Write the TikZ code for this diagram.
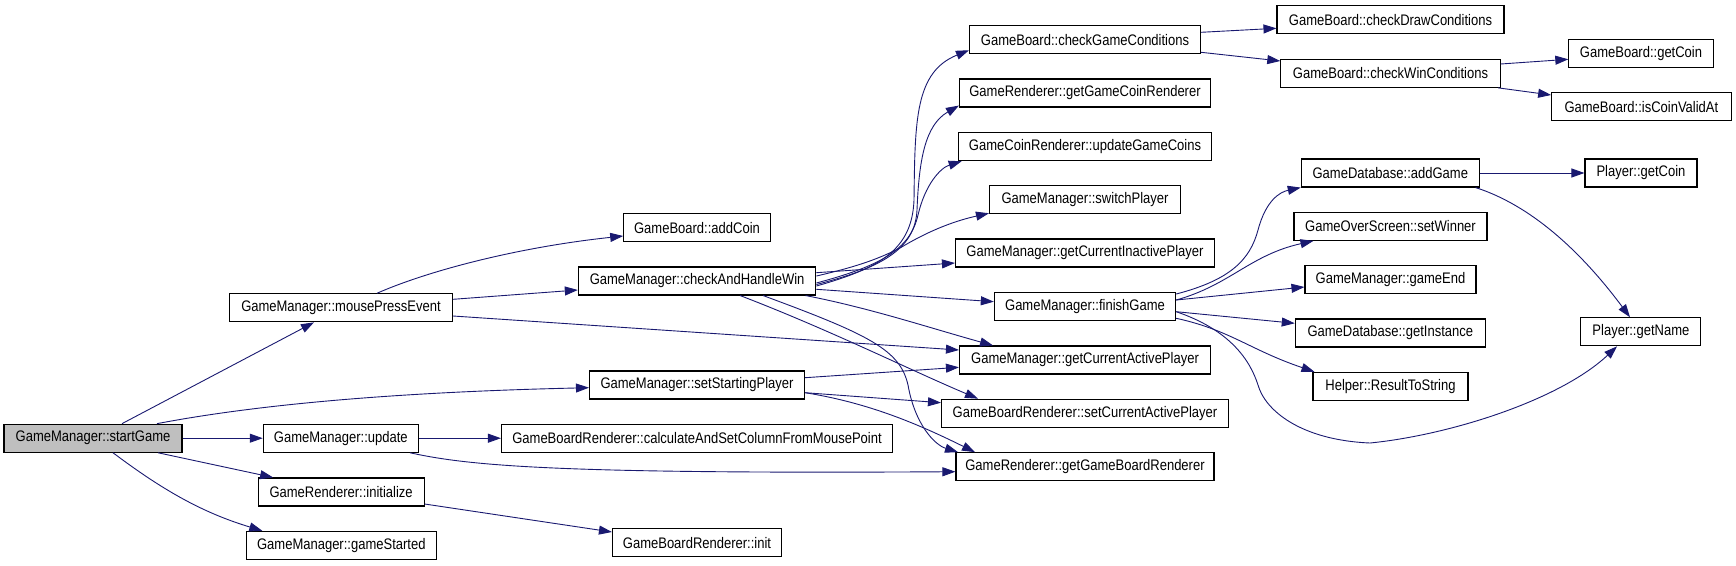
\documentclass[tikz,border=0pt]{standalone}
\usepackage{fontspec}
\setmainfont{Liberation Sans}[FakeStretch=0.85]
\usetikzlibrary{arrows.meta,calc}
\definecolor{edgeblue}{HTML}{191970}
\definecolor{rootgray}{HTML}{BFBFBF}
\tikzset{
  fnbox/.style={draw=black, line width=1.1pt, fill=white, minimum height=28pt, inner sep=0pt,
    font=\fontsize{15.3}{16}\selectfont},
  edge/.style={draw=edgeblue, line width=0.9pt, -{Triangle[length=13pt,width=9pt]}},
}
\begin{document}
\begin{tikzpicture}[x=1pt,y=-1pt]
\useasboundingbox (0,0) rectangle (1736,565);
% column 1
\node[fnbox, fill=rootgray, minimum width=178pt] (sg) at (93,438.2) {GameManager::startGame};
% column 2
\node[fnbox, minimum width=223pt] (mpe) at (341,307.8) {GameManager::mousePressEvent};
\node[fnbox, minimum width=155pt] (upd) at (340.8,438.2) {GameManager::update};
\node[fnbox, minimum width=166pt] (ini) at (341.1,492) {GameRenderer::initialize};
\node[fnbox, minimum width=190pt] (gst) at (341.3,545.3) {GameManager::gameStarted};
% column 3
\node[fnbox, minimum width=146.5pt] (adc) at (697,227.8) {GameBoard::addCoin};
\node[fnbox, minimum width=237.5pt] (chw) at (697.1,281) {GameManager::checkAndHandleWin};
\node[fnbox, minimum width=215pt] (ssp) at (697,385) {GameManager::setStartingPlayer};
\node[fnbox, minimum width=391pt] (cal) at (697,438.5) {GameBoardRenderer::calculateAndSetColumnFromMousePoint};
\node[fnbox, minimum width=169pt] (gbi) at (697,542.7) {GameBoardRenderer::init};
% column 4
\node[fnbox, minimum width=231pt] (cgc) at (1085,39.7) {GameBoard::checkGameConditions};
\node[fnbox, minimum width=251pt] (ggcr) at (1085,93) {GameRenderer::getGameCoinRenderer};
\node[fnbox, minimum width=253.6pt] (ugc) at (1085,146.7) {GameCoinRenderer::updateGameCoins};
\node[fnbox, minimum width=191pt] (swp) at (1085,199.7) {GameManager::switchPlayer};
\node[fnbox, minimum width=259pt] (gcip) at (1085,253) {GameManager::getCurrentInactivePlayer};
\node[fnbox, minimum width=181.3pt] (fin) at (1085,306.5) {GameManager::finishGame};
\node[fnbox, minimum width=251pt] (gcap) at (1085,360) {GameManager::getCurrentActivePlayer};
\node[fnbox, minimum width=287pt] (scap) at (1085,413.2) {GameBoardRenderer::setCurrentActivePlayer};
\node[fnbox, minimum width=258pt] (ggbr) at (1085,466.7) {GameRenderer::getGameBoardRenderer};
% column 5
\node[fnbox, minimum width=227pt] (cdc) at (1390.5,19.8) {GameBoard::checkDrawConditions};
\node[fnbox, minimum width=219.3pt] (cwc) at (1390.5,73.3) {GameBoard::checkWinConditions};
\node[fnbox, minimum width=178pt] (adg) at (1390.3,173) {GameDatabase::addGame};
\node[fnbox, minimum width=193pt] (sw) at (1390.5,226.3) {GameOverScreen::setWinner};
\node[fnbox, minimum width=171pt] (ge) at (1390.5,279.8) {GameManager::gameEnd};
\node[fnbox, minimum width=190pt] (gi) at (1390.3,333) {GameDatabase::getInstance};
\node[fnbox, minimum width=155pt] (rts) at (1390.5,386.3) {Helper::ResultToString};
% column 6
\node[fnbox, minimum width=144.3pt] (gbc) at (1641,53.2) {GameBoard::getCoin};
\node[fnbox, minimum width=179.4pt] (icv) at (1641.4,106.7) {GameBoard::isCoinValidAt};
\node[fnbox, minimum width=112pt] (pgc) at (1641,173) {Player::getCoin};
\node[fnbox, minimum width=120pt] (pgn) at (1640.9,331.8) {Player::getName};

% edges from startGame
\draw[edge] ($(sg.north)+(29,0)$) -- ($(mpe.south)+(-27,0)$);
\draw[edge] ($(sg.north)+(64,0)$) .. controls (260,404) and (400,392) .. ($(ssp.west)+(0,2.7)$);
\draw[edge] (sg.east) -- (upd.west);
\draw[edge] ($(sg.south)+(65,0)$) -- ($(ini.north)+(-68,0)$);
\draw[edge] ($(sg.south)+(20,0)$) .. controls (160,488) and (200,512) .. ($(gst.north)+(-79,0)$);
% mousePressEvent
\draw[edge] ($(mpe.north)+(36,0)$) .. controls (430,270) and (520,247) .. ($(adc.west)+(0,8.2)$);
\draw[edge] ($(mpe.east)+(0,-8.5)$) -- ($(chw.west)+(0,9)$);
\draw[edge] ($(mpe.east)+(0,8.2)$) -- ($(gcap.west)+(0,-10)$);
% update
\draw[edge] (upd.east) -- (upd.east -| cal.west);
\draw[edge] ($(upd.south)+(69.2,0)$) .. controls (470,466) and (560,474) .. ($(ggbr.west)+(0,5)$);
% initialize
\draw[edge] ($(ini.east)+(0,12)$) -- ($(gbi.west)+(0,-10.7)$);
% setStartingPlayer
\draw[edge] ($(ssp.east)+(0,-7.3)$) -- ($(gcap.west)+(0,7.3)$);
\draw[edge] ($(ssp.east)+(0,7.7)$) -- ($(scap.west)+(0,-10.5)$);
\draw[edge] ($(ssp.east)+(0,7.7)$) .. controls (870,403) and (920,425) .. ($(ggbr.north)+(-110,0)$);
% checkAndHandleWin
\draw[edge] ($(chw.east)+(0,5)$) .. controls (880,268) and (912,250) .. (914,200)
   .. controls (915,120) and (915,72) .. ($(cgc.south west)+(0,-4)$);
\draw[edge] ($(chw.east)+(0,3.5)$) .. controls (880,268) and (915,250) .. (917,210)
   .. controls (919,160) and (925,125) .. ($(ggcr.south west)+(0,-2)$);
\draw[edge] ($(chw.east)+(0,2)$) .. controls (880,266) and (910,250) .. (918,215)
   .. controls (925,185) and (940,168) .. ($(ugc.south west)+(4,0)$);
\draw[edge] ($(chw.east)+(0,-5)$) .. controls (860,266) and (880,258) .. (900,248)
   .. controls (925,233) and (950,222) .. ($(swp.south west)+(0,-1)$);
\draw[edge] ($(chw.east)+(0,-8.3)$) -- ($(gcip.west)+(0,10)$);
\draw[edge] ($(chw.east)+(0,8.3)$) -- ($(fin.west)+(0,-4.8)$);
\draw[edge] ($(chw.south east)+(-10.85,0)$) .. controls (870,308) and (930,328) .. ($(gcap.north)+(-92,0)$);
\draw[edge] ($(chw.south)+(43,0)$) .. controls (830,330) and (910,370) .. ($(scap.north)+(-107,0)$);
\draw[edge] ($(chw.south)+(66,0)$) .. controls (870,335) and (900,350) .. (908,385)
   .. controls (915,425) and (935,445) .. ($(ggbr.north)+(-127,0)$);
% finishGame
\draw[edge] ($(fin.east)+(0,-12.5)$) .. controls (1230,280) and (1250,260) .. (1258,230)
   .. controls (1266,200) and (1280,192) .. (adg.south west);
\draw[edge] ($(fin.east)+(0,-6.5)$) .. controls (1230,285) and (1250,255) .. ($(sw.south west)+(20,0)$);
\draw[edge] ($(fin.east)+(0,-6.5)$) -- ($(ge.west)+(0,7.2)$);
\draw[edge] ($(fin.east)+(0,5.2)$) -- ($(gi.west)+(0,-9.7)$);
\draw[edge] ($(fin.east)+(0,11.8)$) .. controls (1230,330) and (1250,350) .. ($(rts.north west)+(2,0)$);
\draw[edge] ($(fin.east)+(0,5.2)$) .. controls (1230,330) and (1250,360) .. (1258,385)
   .. controls (1265,410) and (1300,440) .. (1370,443)
   .. controls (1450,435) and (1560,400) .. ($(pgn.south)+(-23.9,0)$);
% addGame
\draw[edge] (adg.east) -- (pgc.west);
\draw[edge] ($(adg.south east)+(-4.3,0)$) .. controls (1530,205) and (1580,250) .. ($(pgn.north)+(-10.9,0)$);
% checkGameConditions
\draw[edge] ($(cgc.east)+(0,-7.4)$) -- ($(cdc.west)+(0,8.5)$);
\draw[edge] ($(cgc.east)+(0,12.6)$) -- ($(cwc.west)+(0,-12.3)$);
% checkWinConditions
\draw[edge] ($(cwc.east)+(0,-9.3)$) -- ($(gbc.west)+(0,6.1)$);
\draw[edge] ($(cwc.south east)+(-2.65,0)$) -- ($(icv.west)+(0,-11.7)$);
\end{tikzpicture}
\end{document}
